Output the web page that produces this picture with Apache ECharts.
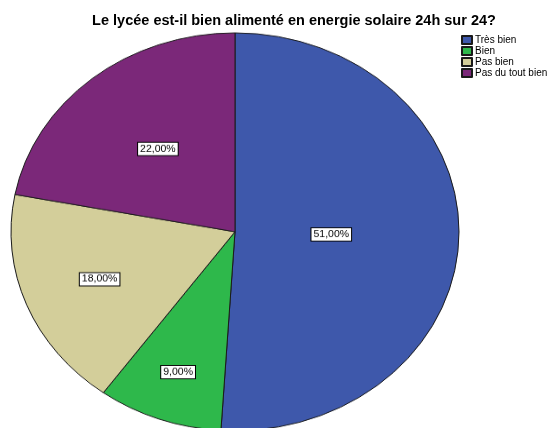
<!DOCTYPE html>
<html>
<head>
<meta charset="utf-8">
<script src="https://cdn.jsdelivr.net/npm/echarts@6/dist/echarts.min.js"></script>
<style>
  html, body { margin: 0; padding: 0; background: #fff; overflow: hidden; }
  #wrap { position: relative; width: 548px; height: 428px; overflow: hidden; }
  /* le camembert est aplati en ellipse */
  #pie { position: absolute; left: 0; top: 0; width: 548px; height: 490px;
         transform-origin: 0 0; transform: scaleY(0.888); }
  #top { position: absolute; left: 0; top: 0; width: 548px; height: 428px; }
</style>
</head>
<body>
<div id="wrap">
  <div id="pie"></div>
  <div id="top"></div>
</div>
<script>
// données
const categories = ['Très bien', 'Bien', 'Pas bien', 'Pas du tout bien']
const percents = [51, 9, 18, 22]
const titleText = 'Le lycée est-il bien alimenté en energie solaire 24h sur 24?'

// couleurs SPSS
const colors = ['#3E58AB', '#2EB84B', '#D3CE9A', '#7B2879']

// position radiale des étiquettes (fraction du rayon)
const labelRadius = [0.43, 0.75, 0.65, 0.54]

const cx = 235
const cy = 261
const R = 224

let pieData = categories.map((name, i) => ({ name: name, value: percents[i] }))

// camembert (dans le div aplati)
let chartPie = echarts.init(document.getElementById('pie'))
chartPie.setOption({
  animation: false,
  color: colors,
  series: [
    {
      type: 'pie',
      center: [cx, cy],
      radius: [0, R],
      startAngle: 90,
      clockwise: true,
      silent: true,
      itemStyle: {
        borderColor: '#1a1a1a',
        borderWidth: 1
      },
      label: {
        show: true,
        position: 'inside',
        formatter: function (p) {
          return p.value.toFixed(2).replace('.', ',') + '%'
        },
        color: '#000',
        fontFamily: 'Liberation Sans, Arial, sans-serif',
        fontSize: 10.5,
        backgroundColor: '#fff',
        borderColor: '#000',
        borderWidth: 1,
        padding: [2, 2, 1, 2]
      },
      labelLayout: function (params) {
        let r = params.labelRect
        let lx = r.x + r.width / 2
        let ly = r.y + r.height / 2
        let ang = Math.atan2(ly - cy, lx - cx)
        let f = labelRadius[params.dataIndex]
        let nx = cx + Math.cos(ang) * R * f
        let ny = cy + Math.sin(ang) * R * f
        return { dx: nx - lx, dy: ny - ly }
      },
      data: pieData
    }
  ]
})

// titre + légende (non aplatis)
let chartTop = echarts.init(document.getElementById('top'))
chartTop.setOption({
  animation: false,
  color: colors,
  title: {
    text: titleText,
    left: 294,
    textAlign: 'center',
    top: 13,
    padding: 0,
    textStyle: {
      fontFamily: 'Liberation Sans, Arial, sans-serif',
      fontSize: 14.5,
      fontWeight: 'bold',
      color: '#000'
    }
  },
  legend: {
    orient: 'vertical',
    left: 461,
    top: 35,
    padding: 0,
    itemWidth: 10,
    itemHeight: 8,
    itemGap: 1,
    icon: 'rect',
    selectedMode: false,
    textStyle: {
      fontFamily: 'Liberation Sans, Arial, sans-serif',
      fontSize: 10,
      lineHeight: 10,
      color: '#000',
      padding: [0, 0, 0, -2]
    },
    data: categories
  },
  series: [
    {
      type: 'pie',
      center: [-200, -200],
      radius: [0, 1],
      silent: true,
      label: { show: false },
      itemStyle: {
        borderColor: '#1a1a1a',
        borderWidth: 1
      },
      data: pieData
    }
  ]
})
</script>
</body>
</html>
